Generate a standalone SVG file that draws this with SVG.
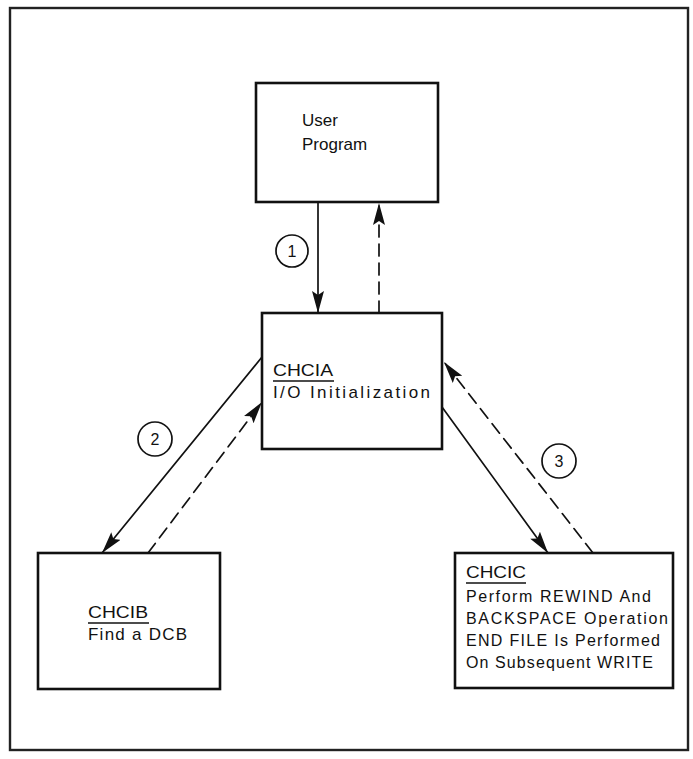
<svg xmlns="http://www.w3.org/2000/svg" width="693" height="759" viewBox="0 0 693 759">
<style>
.box{fill:#fff;stroke:#111;stroke-width:2.6}
.frame{fill:none;stroke:#222;stroke-width:2.4}
.t{font-family:"Liberation Sans",Arial,sans-serif;font-size:17px;fill:#111}
.ts{font-family:"Liberation Sans",Arial,sans-serif;font-size:16px;fill:#111}
.ul{stroke:#111;stroke-width:1.6}
.c{fill:none;stroke:#111;stroke-width:1.7;stroke-linecap:round}
.d{stroke-dasharray:12 7}
.num{font-family:"Liberation Sans",Arial,sans-serif;font-size:16px;fill:#111;text-anchor:middle}
</style>
<defs>
<marker id="ah" markerUnits="userSpaceOnUse" markerWidth="24" markerHeight="14" refX="22" refY="6" orient="auto">
<path d="M0,0 L22,6 L0,12 L4,6 z" fill="#111"/>
</marker>
</defs>
<rect class="frame" x="10" y="8" width="678" height="742"/>
<g id="user-program">
<rect class="box" x="256" y="83" width="182" height="119"/>
<text class="t" x="302" y="126">User</text>
<text class="t" x="302" y="150">Program</text>
</g>
<g id="chcia">
<rect class="box" x="262" y="313" width="180" height="136"/>
<text class="t" x="273" y="376" textLength="60" lengthAdjust="spacingAndGlyphs">CHCIA</text>
<line class="ul" x1="273" y1="381" x2="334" y2="381"/>
<text class="t" x="273" y="398" textLength="157" lengthAdjust="spacing">I/O Initialization</text>
</g>
<g id="chcib">
<rect class="box" x="38" y="553" width="182" height="136"/>
<text class="t" x="88" y="618" textLength="60" lengthAdjust="spacingAndGlyphs">CHCIB</text>
<line class="ul" x1="88" y1="623" x2="149" y2="623"/>
<text class="t" x="88" y="640" textLength="99" lengthAdjust="spacing">Find a DCB</text>
</g>
<g id="chcic">
<rect class="box" x="455" y="553" width="218" height="135"/>
<text class="ts" x="466" y="578" textLength="60" lengthAdjust="spacingAndGlyphs">CHCIC</text>
<line class="ul" x1="466" y1="583" x2="526" y2="583"/>
<text class="ts" x="466" y="602" textLength="185" lengthAdjust="spacing">Perform REWIND And</text>
<text class="ts" x="466" y="624" textLength="202" lengthAdjust="spacing">BACKSPACE Operation</text>
<text class="ts" x="466" y="646" textLength="194" lengthAdjust="spacing">END FILE Is Performed</text>
<text class="ts" x="466" y="668" textLength="187" lengthAdjust="spacing">On Subsequent WRITE</text>
</g>
<g id="connectors">
<line class="c" x1="318" y1="202" x2="318" y2="313" marker-end="url(#ah)"/>
<line class="c d" x1="379" y1="313" x2="379" y2="203" marker-end="url(#ah)"/>
<line class="c" x1="262" y1="357" x2="102" y2="553" marker-end="url(#ah)"/>
<line class="c d" x1="148" y1="553" x2="262" y2="402" marker-end="url(#ah)"/>
<line class="c" x1="442" y1="407" x2="548" y2="553" marker-end="url(#ah)"/>
<line class="c d" x1="593" y1="553" x2="444" y2="362" marker-end="url(#ah)"/>
<circle class="c" cx="292" cy="251" r="16"/>
<text class="num" x="292" y="257">1</text>
<circle class="c" cx="155" cy="439" r="17"/>
<text class="num" x="155" y="445">2</text>
<circle class="c" cx="559" cy="461" r="17"/>
<text class="num" x="559" y="467">3</text>
</g>
</svg>
